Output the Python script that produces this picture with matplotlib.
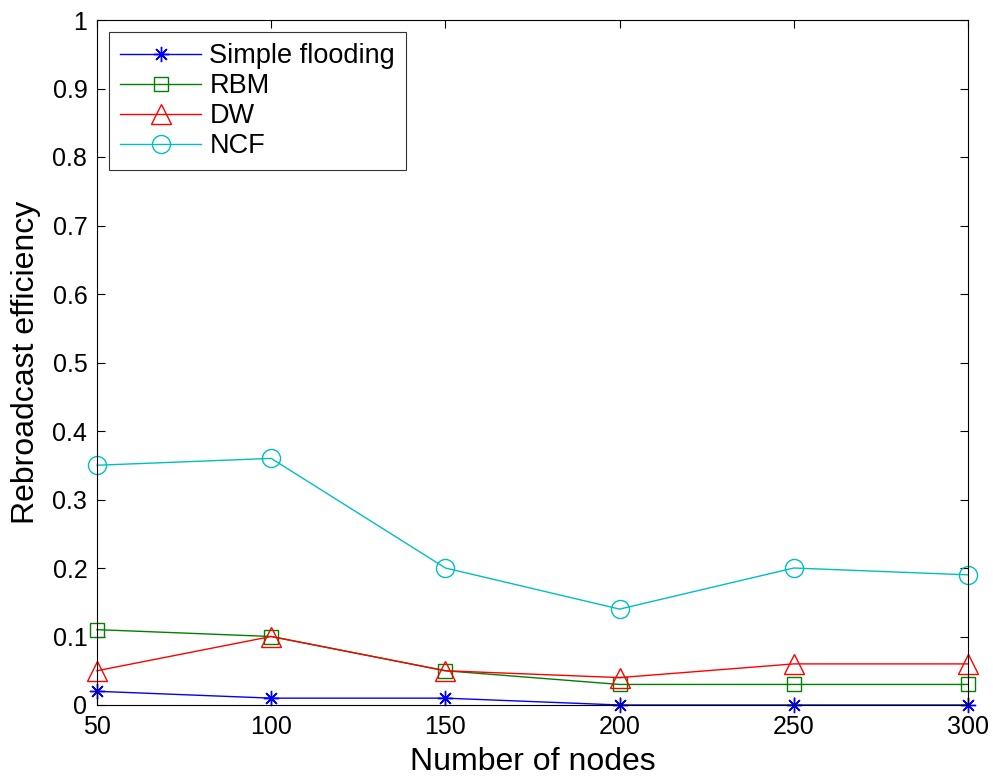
import matplotlib
matplotlib.use("Agg")
import matplotlib.pyplot as plt

nodes = [50, 100, 150, 200, 250, 300]
simple_flooding = [0.02, 0.01, 0.01, 0.0, 0.0, 0.0]
rbm = [0.11, 0.10, 0.05, 0.03, 0.03, 0.03]
dw = [0.05, 0.10, 0.05, 0.04, 0.06, 0.06]
ncf = [0.35, 0.36, 0.20, 0.14, 0.20, 0.19]
yticks = [0, 0.1, 0.2, 0.3, 0.4, 0.5, 0.6, 0.7, 0.8, 0.9, 1]
ytick_labels = ["0", "0.1", "0.2", "0.3", "0.4", "0.5", "0.6", "0.7", "0.8", "0.9", "1"]

plt.rcParams['font.family'] = ['Liberation Sans', 'DejaVu Sans']

fig = plt.figure(figsize=(9.93, 7.81), dpi=100)
ax = fig.add_axes([97/993, 1 - 705/781, (968-97)/993, (705-20)/781])

common = dict(markerfacecolor='none', markeredgewidth=1.0, lw=1.0, clip_on=False)
ax.plot(nodes, simple_flooding, color=(0, 0, 1), marker=(8, 2, 0), markersize=11,
        label='Simple flooding', **common)
ax.plot(nodes, rbm, color=(0, 0.5, 0), marker='s', markersize=10, label='RBM', **common)
ax.plot(nodes, dw, color=(1, 0, 0), marker='^', markersize=14, label='DW', **common)
ax.plot(nodes, ncf, color=(0, 0.75, 0.75), marker='o', markersize=13, label='NCF', **common)

ax.set_xlim(50, 300)
ax.set_ylim(0, 1)
ax.set_xticks(nodes)
ax.set_yticks(yticks)
ax.set_yticklabels(ytick_labels)
ax.tick_params(direction='in', top=True, right=True, labelsize=18, length=6, width=0.8, pad=7)
for s in ax.spines.values():
    s.set_linewidth(0.8)
ax.set_xlabel('Number of nodes', fontsize=23, labelpad=6)
ax.set_ylabel('Rebroadcast efficiency', fontsize=23, labelpad=8)

leg = ax.legend(loc='upper left', fontsize=19.5, frameon=True, fancybox=False, edgecolor='black',
                borderaxespad=0.45, handlelength=3.0, handletextpad=0.3, labelspacing=0.15,
                borderpad=0.4)
leg.get_frame().set_linewidth(0.8)

fig.savefig('out.png', dpi=100)
